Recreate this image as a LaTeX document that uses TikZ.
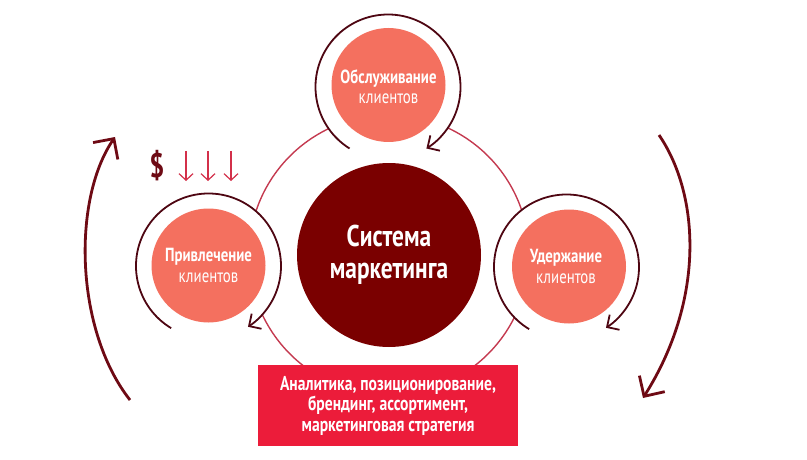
\documentclass[tikz,border=0pt]{standalone}
\usepackage{fontspec}
\setmainfont[FakeStretch=0.78]{PT Sans}
\usetikzlibrary{arrows.meta}
\definecolor{salmon}{HTML}{F4705F}
\definecolor{core}{HTML}{7A0000}
\definecolor{ringc}{HTML}{4E0612}
\definecolor{bigc}{HTML}{6E0A14}
\definecolor{thin}{HTML}{C43A50}
\definecolor{boxc}{HTML}{EC1C3A}
\definecolor{smallc}{HTML}{D3304A}
\tikzset{
  x=1pt,y=1pt,
  stage/.style={circle,fill=salmon,minimum size=114pt,inner sep=0pt},
  stagetext/.style={text=white,align=center,inner sep=0pt,font=\fontsize{19}{20.5}\selectfont},
  gap/.style={circle,fill=white,minimum size=146pt,inner sep=0pt},
  ringarrow/.style={draw=ringc,line width=1.8pt,-{Straight Barb[length=9pt,width=18pt,line width=1.8pt]}},
  bigarrow/.style={draw=bigc,line width=2.8pt,-{Straight Barb[length=15pt,width=30pt,line width=2.8pt]}},
  downarrow/.style={draw=smallc,line width=1.2pt,-{Straight Barb[length=6.5pt,width=14pt,line width=1.2pt]}}
}
\begin{document}
\begin{tikzpicture}
\useasboundingbox (0,0) rectangle (807,459);
% thin orbit behind everything
\node[circle,draw=thin,line width=1.4pt,minimum size=280pt,inner sep=0pt] (orbit) at (389,204) {};
% white gaps around stages
\node[gap] (gt) at (388,372) {};
\node[gap] (gl) at (208.5,193) {};
\node[gap] (gr) at (566.5,192) {};
% core
\node[circle,fill=core,minimum size=184pt,inner sep=0pt,text=white,align=center,font=\bfseries\fontsize{30}{32}\selectfont] (core) at (389,204) {Система\\маркетинга};
% stages
\node[stage] (top) at (388.5,374) {};
\node[stage] (left) at (208.5,193.5) {};
\node[stage] (right) at (569,192.5) {};
\node[stagetext] (toptext) at (388.5,372.5) {\textbf{Обслуживание}\\клиентов};
\node[stagetext] (lefttext) at (208.5,193.5) {\textbf{Привлечение}\\клиентов};
\node[stagetext] (righttext) at (566,192.5) {\textbf{Удержание}\\клиентов};
% ring arrows
\draw[ringarrow] (gt.center) ++(238:72.5) arc[start angle=238,end angle=-58,radius=72.5];
\draw[ringarrow] (gl.center) ++(239:72.5) arc[start angle=239,end angle=-57,radius=72.5];
\draw[ringarrow] (gr.center) ++(239:72.5) arc[start angle=239,end angle=-57,radius=72.5];
% big arrows
\coordinate (la) at (130,59); \coordinate (lb) at (115,322);
\coordinate (ra) at (659,324); \coordinate (rb) at (643,61);
\draw[bigarrow] (la) .. controls (75,129) and (72,259) .. (lb);
\draw[bigarrow] (ra) .. controls (700,264) and (705,159) .. (rb);
% dollar and down arrows
\node[text=bigc,font=\bfseries\fontsize{34}{34}\selectfont] (dollar) at (157,293) {\$};
\coordinate (a1) at (186,308); \coordinate (a1e) at (186,278);
\coordinate (a2) at (208,308); \coordinate (a2e) at (208,278);
\coordinate (a3) at (231,308); \coordinate (a3e) at (231,278);
\draw[downarrow] (a1) -- (a1e);
\draw[downarrow] (a2) -- (a2e);
\draw[downarrow] (a3) -- (a3e);
% box
\node[fill=boxc,minimum width=260pt,minimum height=81pt,inner sep=0pt,text=white,align=center,font=\bfseries\fontsize{20}{20.5}\selectfont] (box) at (388,53.5) {Аналитика, позиционирование,\\брендинг, ассортимент,\\маркетинговая стратегия};
\end{tikzpicture}
\end{document}
